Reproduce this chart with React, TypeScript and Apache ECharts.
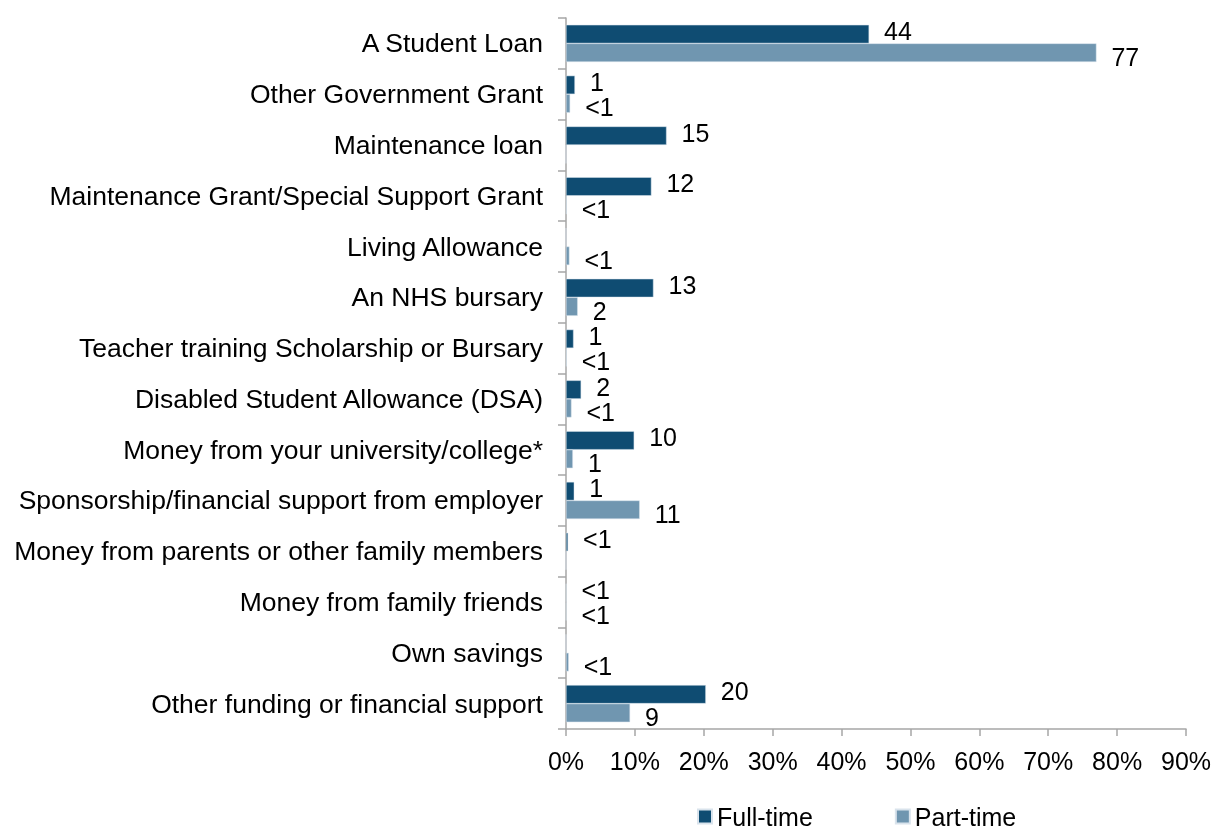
import React, { useEffect, useRef } from "react";
import * as echarts from "echarts";

const categories = [
  "A Student Loan",
  "Other Government Grant",
  "Maintenance loan",
  "Maintenance Grant/Special Support Grant",
  "Living Allowance",
  "An NHS bursary",
  "Teacher training Scholarship or Bursary",
  "Disabled Student Allowance (DSA)",
  "Money from your university/college*",
  "Sponsorship/financial support from employer",
  "Money from parents or other family members",
  "Money from family friends",
  "Own savings",
  "Other funding or financial support",
];

const fullTime: (number | null)[] = [44, 1.3, 14.6, 12.4, null, 12.7, 1.1, 2.2, 9.9, 1.2, 0.3, 0.05, null, 20.3];
const partTime: (number | null)[] = [77, 0.6, null, 0.1, 0.5, 1.7, 0.1, 0.8, 1.0, 10.7, null, 0.05, 0.4, 9.3];

const fullTimeLabels = ["44", "1", "15", "12", "", "13", "1", "2", "10", "1", "<1", "<1", "", "20"];
const partTimeLabels = ["77", "<1", "", "<1", "<1", "2", "<1", "<1", "1", "11", "", "<1", "<1", "9"];

const xTicks = [0, 10, 20, 30, 40, 50, 60, 70, 80, 90];

const FONT = "'Liberation Sans', Arial, sans-serif";

function buildData(values: (number | null)[], labels: string[]) {
  return values.map((v, i) => ({
    value: v === null ? 0 : v,
    label: { show: labels[i] !== "", formatter: labels[i] },
  }));
}

export default function App() {
  const ref = useRef<HTMLDivElement>(null);
  useEffect(() => {
    if (!ref.current) return;
    const chart = echarts.init(ref.current, undefined, { renderer: "svg" });
    const labelBase = {
      position: "right" as const,
      distance: 15,
      color: "#000",
      fontSize: 25,
      lineHeight: 21,
      fontFamily: FONT,
    };
    chart.setOption({
      animation: false,
      grid: {
        left: 566,
        right: 26,
        top: 18,
        bottom: 102,
        containLabel: false,
        outerBoundsMode: "none",
      },
      legend: {
        top: 804,
        left: 697,
        padding: 0,
        itemWidth: 14,
        itemHeight: 14,
        itemGap: 82,
        icon: "rect",
        textStyle: { fontSize: 25, lineHeight: 22, fontFamily: FONT, color: "#000" },
        data: ["Full-time", "Part-time"],
      },
      xAxis: {
        type: "value",
        min: xTicks[0],
        max: xTicks[xTicks.length - 1],
        interval: 10,
        splitLine: { show: false },
        axisLine: { show: true, lineStyle: { color: "#A6A6A6", width: 1.5 } },
        axisTick: { show: true, length: 7, lineStyle: { color: "#A6A6A6", width: 1.5 } },
        axisLabel: {
          formatter: "{value}%",
          fontSize: 25,
          fontFamily: FONT,
          color: "#000",
          margin: 19,
        },
      },
      yAxis: {
        type: "category",
        inverse: true,
        data: categories,
        axisLine: { show: true, lineStyle: { color: "#A6A6A6", width: 1.5 } },
        axisTick: { show: true, length: 8, lineStyle: { color: "#A6A6A6", width: 1.5 } },
        axisLabel: {
          fontSize: 26.5,
          fontFamily: FONT,
          color: "#000",
          margin: 23,
        },
      },
      series: [
        {
          name: "Full-time",
          type: "bar",
          data: buildData(fullTime, fullTimeLabels),
          barGap: "0%",
          barCategoryGap: "27%",
          itemStyle: { color: "#0F4C72", borderColor: "#D9E3EC", borderWidth: 0.5 },
          label: { ...labelBase, show: true, offset: [0, -3] },
        },
        {
          name: "Part-time",
          type: "bar",
          data: buildData(partTime, partTimeLabels),
          barGap: "0%",
          barCategoryGap: "27%",
          itemStyle: { color: "#7096B0", borderColor: "#D9E3EC", borderWidth: 0.5 },
          label: { ...labelBase, show: true, offset: [0, 4] },
        },
      ],
    });
    return () => chart.dispose();
  }, []);
  return (
    <div
      ref={ref}
      style={{ position: "fixed", left: 0, top: 0, width: 1212, height: 831 }}
    />
  );
}
